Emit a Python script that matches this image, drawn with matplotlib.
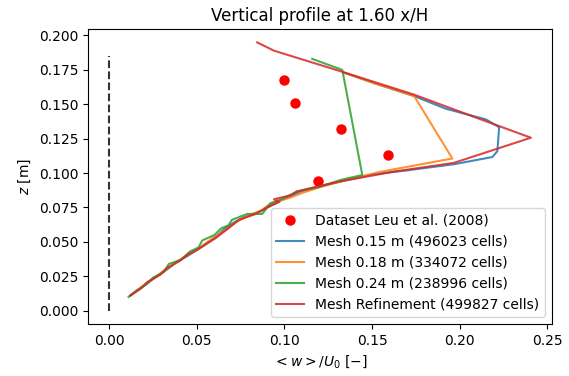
import matplotlib
matplotlib.use("Agg")
import matplotlib.pyplot as plt

# experimental points (Leu et al. 2008)
exp_w = [0.100, 0.106, 0.132, 0.159, 0.119]
exp_z = [0.168, 0.151, 0.132, 0.113, 0.094]

# Mesh 0.15 m
w_015 = [0.012, 0.016, 0.022, 0.027, 0.033, 0.038, 0.045, 0.051, 0.057, 0.062, 0.066,
         0.071, 0.077, 0.086, 0.093, 0.101, 0.110, 0.122, 0.136, 0.150, 0.170, 0.197,
         0.2187, 0.2215, 0.2225, 0.215, 0.192, 0.174, 0.152, 0.134]
z_015 = [0.011, 0.015, 0.020, 0.025, 0.030, 0.035, 0.040, 0.045, 0.050, 0.055, 0.060,
         0.064, 0.068, 0.072, 0.077, 0.082, 0.087, 0.091, 0.095, 0.099, 0.102, 0.1065,
         0.1117, 0.1160, 0.1333, 0.139, 0.1468, 0.156, 0.165, 0.173]

# Mesh 0.18 m
w_018 = [0.012, 0.017, 0.021, 0.028, 0.032, 0.039, 0.044, 0.052, 0.056, 0.063, 0.067,
         0.072, 0.079, 0.087, 0.092, 0.103, 0.111, 0.121, 0.135, 0.155, 0.1958,
         0.174, 0.152, 0.134]
z_018 = [0.011, 0.016, 0.020, 0.026, 0.030, 0.036, 0.040, 0.046, 0.050, 0.056, 0.059,
         0.064, 0.069, 0.073, 0.078, 0.082, 0.086, 0.090, 0.095, 0.101, 0.1106,
         0.156, 0.165, 0.173]

# Mesh 0.24 m
w_024 = [0.011, 0.015, 0.021, 0.025, 0.031, 0.034, 0.041, 0.046, 0.051, 0.053, 0.060,
         0.064, 0.068, 0.070, 0.0787, 0.0873, 0.092, 0.100, 0.107, 0.120, 0.132, 0.1444,
         0.133, 0.1158]
z_024 = [0.010, 0.014, 0.019, 0.024, 0.028, 0.034, 0.037, 0.043, 0.046, 0.051, 0.055,
         0.060, 0.062, 0.066, 0.0703, 0.0703, 0.078, 0.082, 0.0866, 0.090, 0.095, 0.0986,
         0.175, 0.183]

# Mesh refinement
w_ref = [0.012, 0.018, 0.022, 0.029, 0.033, 0.040, 0.045, 0.050, 0.056, 0.061, 0.066,
         0.069, 0.074, 0.083, 0.090, 0.097, 0.094, 0.104, 0.107, 0.118, 0.132, 0.145,
         0.162, 0.1966, 0.2406, 0.210, 0.174, 0.132, 0.0939, 0.0844]
z_ref = [0.011, 0.016, 0.021, 0.026, 0.031, 0.036, 0.041, 0.044, 0.049, 0.053, 0.058,
         0.061, 0.066, 0.070, 0.075, 0.079, 0.081, 0.084, 0.0866, 0.090, 0.094, 0.097,
         0.101, 0.1074, 0.1257, 0.140, 0.157, 0.174, 0.189, 0.195]

fig = plt.figure(figsize=(5.69, 3.76), dpi=100)
ax = fig.add_subplot(111)
fig.subplots_adjust(left=0.155, right=0.970, bottom=0.138, top=0.923)

ax.plot([0, 0], [0, 0.185], "k--", alpha=0.8)
ax.plot(exp_w, exp_z, "ro", markersize=6.5, label="Dataset Leu et al. (2008)")
ax.plot(w_015, z_015, alpha=0.85, label="Mesh 0.15 m (496023 cells)")
ax.plot(w_018, z_018, alpha=0.85, label="Mesh 0.18 m (334072 cells)")
ax.plot(w_024, z_024, alpha=0.85, label="Mesh 0.24 m (238996 cells)")
ax.plot(w_ref, z_ref, alpha=0.85, label="Mesh Refinement (499827 cells)")

ax.set_title("Vertical profile at 1.60 x/H")
ax.set_xlabel("$<w>/U_0$ $[-]$")
ax.set_ylabel("$z$ [m]")
ax.legend(loc="lower right")

fig.savefig("out.png", dpi=100)
